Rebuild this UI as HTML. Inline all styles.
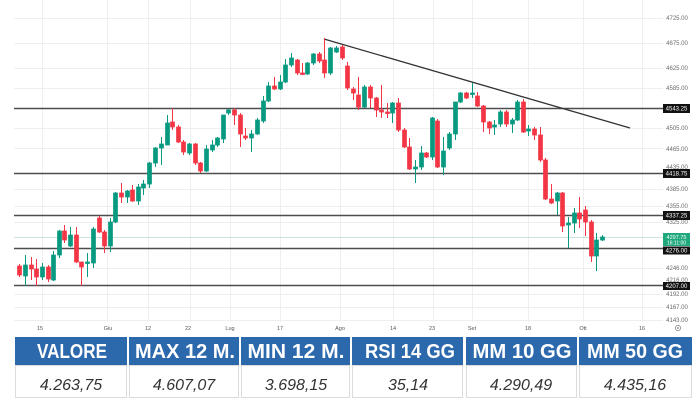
<!DOCTYPE html>
<html>
<head>
<meta charset="utf-8">
<style>
html,body{margin:0;padding:0;background:#fff;}
body{width:700px;height:400px;overflow:hidden;}
svg{display:block;}
.tk{font-family:"Liberation Sans",sans-serif;font-size:6px;fill:#6a6a6a;text-anchor:middle;}
.xl{font-family:"Liberation Sans",sans-serif;font-size:5.5px;fill:#555;text-anchor:middle;}
.bl{font-family:"Liberation Sans",sans-serif;font-size:6px;fill:#fff;text-anchor:middle;}
.hd{font-family:"Liberation Sans",sans-serif;font-size:20px;font-weight:bold;fill:#fff;text-anchor:middle;}
.vl{font-family:"Liberation Sans",sans-serif;font-size:16px;font-style:italic;fill:#333;text-anchor:middle;}
</style>
</head>
<body>
<svg width="700" height="400" viewBox="0 0 700 400" xmlns="http://www.w3.org/2000/svg">
<rect width="700" height="400" fill="#fff"/>
<!-- grid -->
<g stroke="#efefef" stroke-width="1">
<path d="M14 18.5H663M14 43.5H663M14 68.5H663M14 88.5H663M14 128.5H663M14 148.5H663M14 189.5H663M14 206.5H663M14 222.5H663M14 268.5H663M14 294.5H663M14 307.5H663M14 320.5H663"/>
<path d="M42.5 0V322M107.5 0V322M148.5 0V322M190.5 0V322M230.5 0V322M280.5 0V322M340.5 0V322M393.5 0V322M433.5 0V322M472.5 0V322M528.5 0V322M583.5 0V322M642.5 0V322"/>
</g>
<!-- current price line -->
<path d="M14 237.5H663" stroke="#b8dccf" stroke-width="0.8"/>
<!-- horizontal levels -->
<g stroke="#4d4d4d" stroke-width="1.6">
<path d="M14 108.5H663M14 173.5H663M14 215.5H663M14 248.5H663M14 285.5H663"/>
</g>
<!-- trendline -->
<path d="M324 39L630 128" stroke="#333" stroke-width="1.3" fill="none"/>
<!-- green candles -->
<g stroke="#089981" stroke-width="1" fill="none">
<path d="M25.5 255V286M42.5 263V280M53.5 251V281M59.5 230V258M70.5 227V247M87.5 253V277M93.5 227V268M110.5 218V252M115.5 192V223M127.5 190V203M138.5 184V205M143.5 180V195M149.5 162V188M155.5 147V167M161.5 137V165M167.5 115V145M189.5 143V155M206.5 145V172M212.5 140V152M217.5 137V147M223.5 115V143M228.5 109V115M251.5 130V152M257.5 118V135M263.5 96V123M268.5 82V102M280.5 75V90M285.5 59V83M291.5 53V67M307.5 62V75M313.5 53V65M330.5 47V75M336.5 46V53M364.5 85V108M392.5 102V123M415.5 160V183M421.5 146V170M432.5 117V160M443.5 137V175M449.5 132V150M455.5 102V140M460.5 92V103M472.5 83V98M494.5 120V135M500.5 110V127M512.5 118V133M517.5 100V121M528.5 125V136M557.5 192V215M568.5 217V248M574.5 208V233M596.5 233V271M602.5 235V241"/>
</g>
<path fill="#089981" stroke="#089981" stroke-width="0.7" d="M23.5 265h4v11h-4zM40.5 267h4v10h-4zM51.5 255h4v25h-4zM57.5 231h4v24h-4zM68.5 235h4v11h-4zM85.5 262h4v1.5h-4zM91.5 229h4v34h-4zM108.5 222h4v24h-4zM113.5 193h4v29h-4zM125.5 191h4v6h-4zM136.5 187h4v14h-4zM141.5 184h4v4h-4zM147.5 163h4v21h-4zM153.5 148h4v15h-4zM159.5 144h4v4h-4zM165.5 123h4v22h-4zM187.5 144h4v9h-4zM204.5 149h4v22h-4zM210.5 145h4v5h-4zM215.5 138h4v7h-4zM221.5 115h4v24h-4zM226.5 110h4v3h-4zM249.5 134h4v4h-4zM255.5 120h4v14h-4zM261.5 101h4v20h-4zM266.5 86h4v15h-4zM278.5 82h4v7h-4zM283.5 65h4v17h-4zM289.5 58h4v7h-4zM305.5 63h4v11h-4zM311.5 54h4v9h-4zM328.5 48h4v25h-4zM334.5 48h4v4h-4zM362.5 87h4v20h-4zM390.5 103h4v10h-4zM413.5 167h4v2h-4zM419.5 153h4v14h-4zM430.5 118h4v39h-4zM441.5 151h4v16h-4zM447.5 134h4v14h-4zM453.5 102h4v32h-4zM458.5 93h4v9h-4zM470.5 93h4v1.5h-4zM492.5 125h4v2h-4zM498.5 112h4v12h-4zM510.5 120h4v4h-4zM515.5 102h4v18h-4zM526.5 129h4v2h-4zM555.5 193h4v8h-4zM566.5 223h4v2h-4zM572.5 213h4v10h-4zM594.5 240h4v16h-4zM600.5 237h4v3h-4z"/>
<!-- red candles -->
<g stroke="#f23645" stroke-width="1" fill="none">
<path d="M19.5 264V277M31.5 257V280M36.5 259V286M48.5 265V282M64.5 225V243M76.5 227V263M81.5 262V286M99.5 216V233M104.5 230V253M121.5 183V203M132.5 185V202M172.5 108V130M178.5 125V143M183.5 140V155M195.5 143V165M200.5 162V173M234.5 108V125M240.5 113V147M245.5 128V140M274.5 77V90M297.5 59V75M302.5 63V75M319.5 52V63M324.5 38V78M342.5 45V60M347.5 62V90M353.5 87V100M358.5 77V110M370.5 85V108M376.5 97V117M381.5 85V118M387.5 103V118M398.5 98V132M404.5 128V148M409.5 138V170M426.5 152V158M437.5 119V168M466.5 92V99M477.5 92V107M483.5 105V132M489.5 121V134M506.5 110V127M523.5 99V133M534.5 127V140M540.5 127V162M545.5 158V200M551.5 184V204M562.5 192V232M579.5 197V228M585.5 206V236M591.5 220V262"/>
</g>
<path fill="#f23645" stroke="#f23645" stroke-width="0.7" d="M17.5 266h4v9h-4zM29.5 265h4v4h-4zM34.5 269h4v8h-4zM46.5 267h4v12h-4zM62.5 231h4v9h-4zM74.5 235h4v27h-4zM79.5 262h4v5h-4zM97.5 218h4v14h-4zM102.5 232h4v14h-4zM119.5 193h4v4h-4zM130.5 190h4v11h-4zM170.5 122h4v5h-4zM176.5 127h4v15h-4zM181.5 142h4v10h-4zM193.5 144h4v19h-4zM198.5 163h4v8h-4zM232.5 110h4v5h-4zM238.5 115h4v19h-4zM243.5 136h4v2h-4zM272.5 86h4v3h-4zM295.5 60h4v13h-4zM300.5 73h4v1.5h-4zM317.5 54h4v7h-4zM322.5 60h4v13h-4zM340.5 47h4v11h-4zM345.5 66h4v22h-4zM351.5 89h4v4h-4zM356.5 95h4v12h-4zM368.5 87h4v11h-4zM374.5 98h4v12h-4zM379.5 110h4v2h-4zM385.5 112h4v1.5h-4zM396.5 103h4v27h-4zM402.5 130h4v17h-4zM407.5 147h4v22h-4zM424.5 153h4v4h-4zM435.5 121h4v46h-4zM464.5 93h4v5h-4zM475.5 96h4v10h-4zM481.5 106h4v16h-4zM487.5 122h4v6h-4zM504.5 112h4v12h-4zM521.5 102h4v30h-4zM532.5 129h4v6h-4zM538.5 135h4v25h-4zM543.5 160h4v39h-4zM549.5 199h4v4h-4zM560.5 193h4v33h-4zM577.5 213h4v6h-4zM583.5 210h4v12h-4zM589.5 222h4v34h-4z"/>
<!-- right axis tick labels -->
<text class="tk" x="677" y="20">4725.00</text>
<text class="tk" x="677" y="45">4675.00</text>
<text class="tk" x="677" y="70">4625.00</text>
<text class="tk" x="677" y="90">4585.00</text>
<text class="tk" x="677" y="130">4505.00</text>
<text class="tk" x="677" y="151">4465.00</text>
<text class="tk" x="677" y="169">4435.00</text>
<text class="tk" x="677" y="191">4385.00</text>
<text class="tk" x="677" y="208">4355.00</text>
<text class="tk" x="677" y="224">4325.00</text>
<text class="tk" x="677" y="270">4246.00</text>
<text class="tk" x="677" y="282">4216.00</text>
<text class="tk" x="677" y="296">4192.00</text>
<text class="tk" x="677" y="309">4167.00</text>
<text class="tk" x="677" y="322">4143.00</text>
<!-- level boxes -->
<rect x="663" y="104" width="27" height="9" fill="#111"/>
<text class="bl" x="676.5" y="110.5">4543.25</text>
<rect x="663" y="169" width="27" height="9" fill="#111"/>
<text class="bl" x="676.5" y="175.5">4418.75</text>
<rect x="663" y="211" width="27" height="9" fill="#111"/>
<text class="bl" x="676.5" y="217.5">4337.25</text>
<rect x="663" y="233" width="27" height="13" fill="#20a97f"/>
<text class="bl" x="676.5" y="239" style="font-size:5.5px">4297.75</text>
<text class="bl" x="676.5" y="244.5" style="font-size:5px">16:11:00</text>
<rect x="663" y="246.5" width="27" height="8" fill="#111"/>
<text class="bl" x="676.5" y="252.5">4276.00</text>
<rect x="663" y="282" width="27" height="8" fill="#111"/>
<text class="bl" x="676.5" y="288">4207.00</text>
<!-- x labels -->
<text class="xl" x="40" y="330">15</text>
<text class="xl" x="108" y="330">Giu</text>
<text class="xl" x="148" y="330">12</text>
<text class="xl" x="188" y="330">22</text>
<text class="xl" x="230" y="330">Lug</text>
<text class="xl" x="280" y="330">17</text>
<text class="xl" x="340" y="330">Ago</text>
<text class="xl" x="393" y="330">14</text>
<text class="xl" x="432" y="330">23</text>
<text class="xl" x="472" y="330">Set</text>
<text class="xl" x="528" y="330">18</text>
<text class="xl" x="583" y="330">Ott</text>
<text class="xl" x="642" y="330">16</text>
<circle cx="678" cy="328" r="2.6" fill="none" stroke="#777" stroke-width="0.7"/>
<circle cx="678" cy="328" r="0.9" fill="#777"/>
<!-- table -->
<g fill="#2c68ac">
<rect x="15" y="337" width="112" height="28"/>
<rect x="129" y="337" width="110" height="28"/>
<rect x="241" y="337" width="109" height="28"/>
<rect x="352" y="337" width="111" height="28"/>
<rect x="466" y="337" width="111" height="28"/>
<rect x="579" y="337" width="113" height="28"/>
</g>
<g fill="#fff" stroke="#dcdcdc" stroke-width="1">
<rect x="15.5" y="365.5" width="111" height="32"/>
<rect x="129.5" y="365.5" width="109" height="32"/>
<rect x="241.5" y="365.5" width="108" height="32"/>
<rect x="352.5" y="365.5" width="110" height="32"/>
<rect x="466.5" y="365.5" width="110" height="32"/>
<rect x="579.5" y="365.5" width="112" height="32"/>
</g>
<text class="hd" x="72" y="358" textLength="70" lengthAdjust="spacingAndGlyphs">VALORE</text>
<text class="hd" x="185" y="358" textLength="100" lengthAdjust="spacingAndGlyphs">MAX 12 M.</text>
<text class="hd" x="296" y="358" textLength="97" lengthAdjust="spacingAndGlyphs">MIN 12 M.</text>
<text class="hd" x="410" y="358" textLength="90" lengthAdjust="spacingAndGlyphs">RSI 14 GG</text>
<text class="hd" x="522" y="358" textLength="99" lengthAdjust="spacingAndGlyphs">MM 10 GG</text>
<text class="hd" x="635" y="358" textLength="96" lengthAdjust="spacingAndGlyphs">MM 50 GG</text>
<text class="vl" x="71" y="390">4.263,75</text>
<text class="vl" x="184" y="390">4.607,07</text>
<text class="vl" x="296" y="390">3.698,15</text>
<text class="vl" x="408" y="390">35,14</text>
<text class="vl" x="521" y="390">4.290,49</text>
<text class="vl" x="635" y="390">4.435,16</text>
</svg>
</body>
</html>
